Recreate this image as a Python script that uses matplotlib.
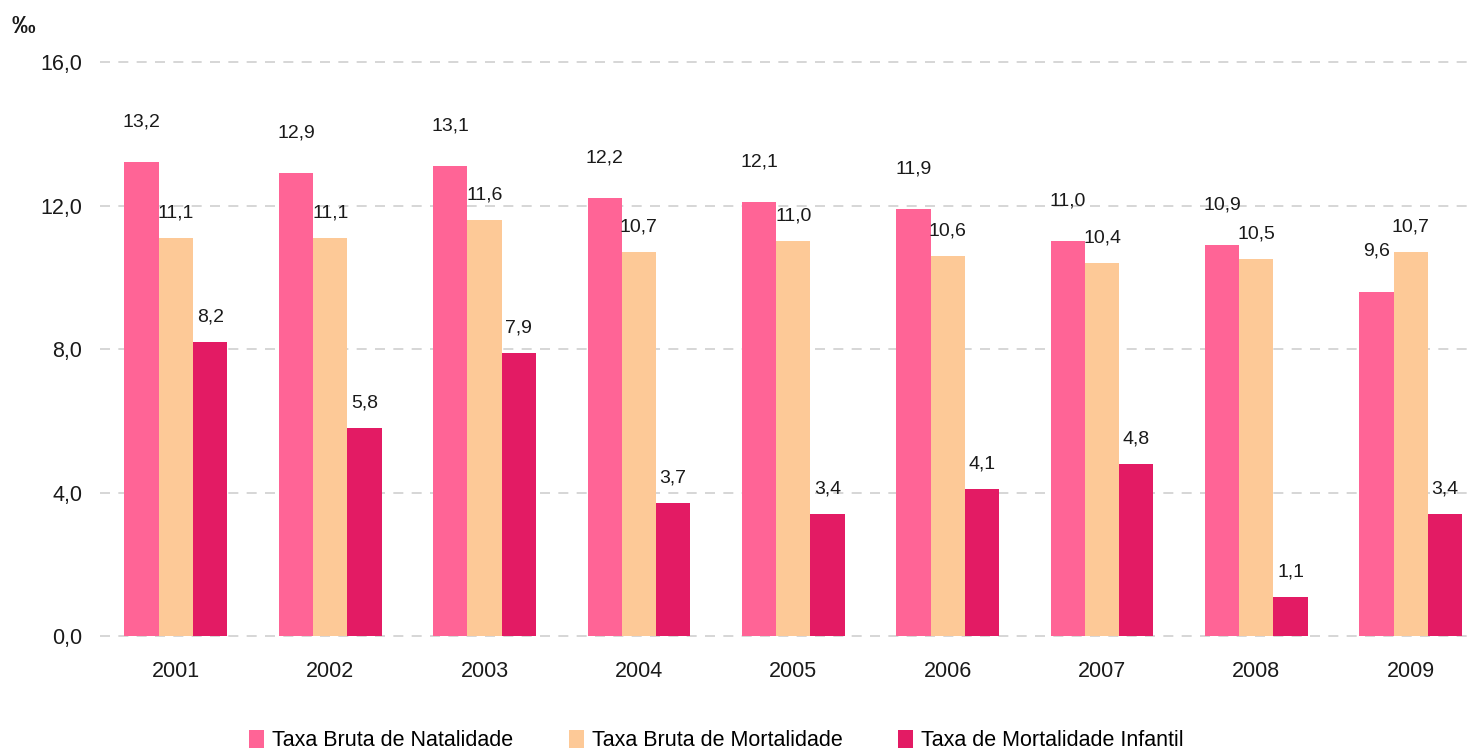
import numpy as np
import matplotlib.pyplot as plt

plt.rcParams['font.family'] = ['Liberation Sans', 'DejaVu Sans']

# Dados
anos = ['2001', '2002', '2003', '2004', '2005', '2006', '2007', '2008', '2009']
natalidade = [13.2, 12.9, 13.1, 12.2, 12.1, 11.9, 11.0, 10.9, 9.6]
mortalidade = [11.1, 11.1, 11.6, 10.7, 11.0, 10.6, 10.4, 10.5, 10.7]
infantil = [8.2, 5.8, 7.9, 3.7, 3.4, 4.1, 4.8, 1.1, 3.4]
series_nomes = ['Taxa Bruta de Natalidade', 'Taxa Bruta de Mortalidade',
                'Taxa de Mortalidade Infantil']
yticks = [0, 4, 8, 12, 16]

cores = ['#FF6496', '#FDC997', '#E31B64']
desloc_label = [29, 18, 18]  # pontos acima da barra

fig = plt.figure(figsize=(14.74, 7.51), dpi=100)
ax = fig.add_axes([0.068, 0.1531, 0.932, 0.7643])

x = np.arange(len(anos))
w = 0.222
for k, (vals, cor) in enumerate(zip([natalidade, mortalidade, infantil], cores)):
    pos = x + (k - 1) * w
    barras = ax.bar(pos, vals, width=w, color=cor, label=series_nomes[k], zorder=2)
    for b, v in zip(barras, vals):
        ax.annotate(f'{v:.1f}'.replace('.', ','),
                    (b.get_x() + b.get_width() / 2, v),
                    xytext=(0, desloc_label[k]), textcoords='offset points',
                    ha='center', va='center', fontsize=14, color='#1a1a1a',
                    annotation_clip=False)

ax.set_xlim(-0.49, 8.41)
ax.set_ylim(0, 16)
ax.set_yticks(yticks)
ax.set_yticklabels([f'{t:.1f}'.replace('.', ',') for t in yticks])
ax.set_xticks(x)
ax.set_xticklabels(anos)
ax.tick_params(axis='both', length=0, labelsize=15.5, colors='#1a1a1a')
ax.tick_params(axis='y', pad=13)
ax.tick_params(axis='x', pad=18)
for s in ax.spines.values():
    s.set_visible(False)
for t in yticks:
    ax.axhline(t, color='#cfcfcf', lw=1.2, dashes=(6, 5), zorder=1, clip_on=False)

fig.text(0.008, 0.965, '‰', fontsize=17, fontweight='bold', color='#1a1a1a',
         ha='left', va='center')

leg = fig.legend(loc='lower center', bbox_to_anchor=(0.486, -0.026), ncol=3,
                 frameon=False, fontsize=15.5, handlelength=0.7, handleheight=0.9,
                 handletextpad=0.35, columnspacing=2.6)

fig.savefig('out.png', dpi=100)
